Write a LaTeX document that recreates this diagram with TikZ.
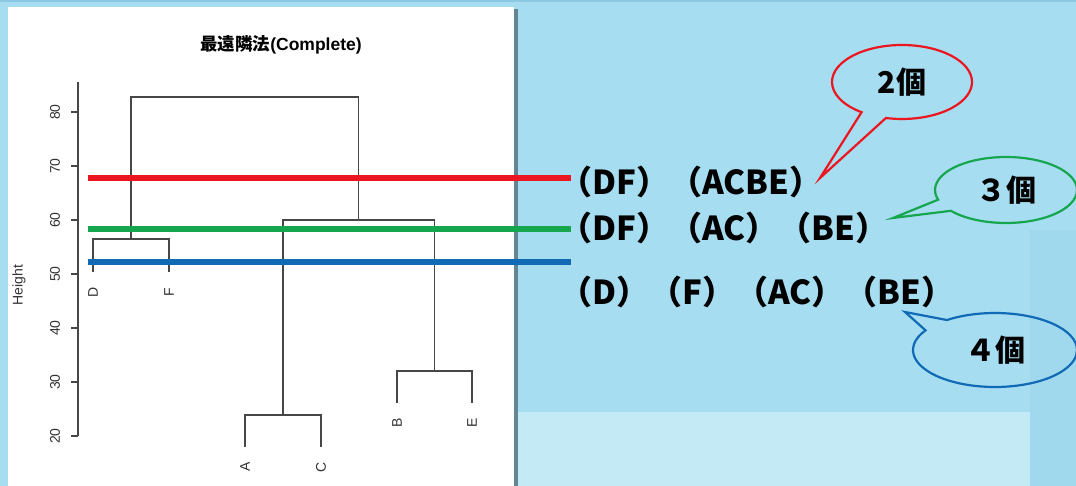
\documentclass[tikz,border=0pt]{standalone}
\usepackage{fontspec}
\setmainfont{Liberation Sans}
\newfontfamily\jpfont{Noto Sans CJK JP}
\usetikzlibrary{positioning,shapes.callouts}
\definecolor{bgblue}{RGB}{166,221,241}
\definecolor{bgedge}{RGB}{140,200,225}
\definecolor{bglight}{RGB}{196,234,246}
\definecolor{bgdark}{RGB}{160,217,238}
\definecolor{cutred}{RGB}{236,22,32}
\definecolor{cutgreen}{RGB}{22,166,78}
\definecolor{cutblue}{RGB}{16,106,182}
\tikzset{
tree/.style={draw=black!72, line width=1.2pt},
cutline/.style={line width=6pt},
axislbl/.style={rotate=90, inner sep=0pt, font=\fontsize{14}{14}\selectfont, text=black!80},
leaf/.style={rotate=90, inner sep=0pt, font=\fontsize{14}{14}\selectfont, text=black!80},
group/.style={anchor=west, inner sep=0pt, font=\jpfont\bfseries\fontsize{33}{33}\selectfont},
bubble/.style={ellipse callout, draw, line width=2.2pt, inner sep=0pt, callout pointer arc=22, font=\jpfont\bfseries\fontsize{30}{30}\selectfont}
}
\begin{document}
\begin{tikzpicture}[x=1pt, y=-1pt]
\useasboundingbox (0,0) rectangle (1076,486);
\fill[bgblue] (0,0) rectangle (1076,486);
\fill[bgedge] (0,0) rectangle (1076,2);
\fill[bglight] (515,412) rectangle (1030,486);
\fill[bgdark] (1030,230) rectangle (1076,486);
\fill[black!40!bgblue] (514,9) rectangle (518,486);
\fill[white] (8,7) rectangle (514,486);
\node[inner sep=0pt, font=\bfseries\fontsize{17.5}{17.5}\selectfont] (title) at (281,45) {{\jpfont 最遠隣法}(Complete)};
\node[axislbl] (ylab) at (19,285) {Height};
\draw[tree] (78,82) -- (78,436);
\foreach \h in {20,30,...,80}{
\draw[tree] (71,544-5.4*\h) -- (78,544-5.4*\h);
\node[axislbl] (t\h) at (55,544-5.4*\h) {\h};
}
\coordinate (lD) at (93,272);
\coordinate (lF) at (169,272);
\coordinate (lA) at (245,447);
\coordinate (lC) at (321,447);
\coordinate (lB) at (397,403);
\coordinate (lE) at (472,403);
\coordinate (mDF) at (131,239);
\coordinate (mAC) at (283,415);
\coordinate (mBE) at (434.5,371);
\coordinate (mACBE) at (358.75,220);
\coordinate (mTop) at (245,97);
\foreach \a/\m/\b in {lD/mDF/lF, lA/mAC/lC, lB/mBE/lE, mAC/mACBE/mBE, mDF/mTop/mACBE}
\draw[tree] (\a) |- (\m) -| (\b);
\foreach \n/\x/\y in {D/93/292, F/169/292, A/245/467, C/321/467, B/397/423, E/472/423}
\node[leaf] (\n) at (\x,\y) {\n};
\node[group] (r2) at (559,182) {（DF）（ACBE）};
\node[group] (r3) at (559,228) {（DF）（AC）（BE）};
\node[group] (r4) at (559,292) {（D）（F）（AC）（BE）};
\foreach \c/\y/\n in {cutred/178/2, cutgreen/229/3, cutblue/262/4}
\draw[cutline, \c] (88,\y) coordinate (c\n) -- (571,\y);
\coordinate (tip2) at (820,178);
\coordinate (tip3) at (893,218);
\coordinate (tip4) at (905,312);
\node[bubble, draw=cutred, minimum width=140pt, minimum height=74pt, callout absolute pointer={(tip2)}] (b2) at (902,82) {2個};
\node[bubble, draw=cutgreen, minimum width=142pt, minimum height=66pt, callout absolute pointer={(tip3)}] (b3) at (1006,190) {３個};
\node[bubble, draw=cutblue, minimum width=164pt, minimum height=74pt, callout absolute pointer={(tip4)}] (b4) at (995,350) {４個};
\end{tikzpicture}
\end{document}
